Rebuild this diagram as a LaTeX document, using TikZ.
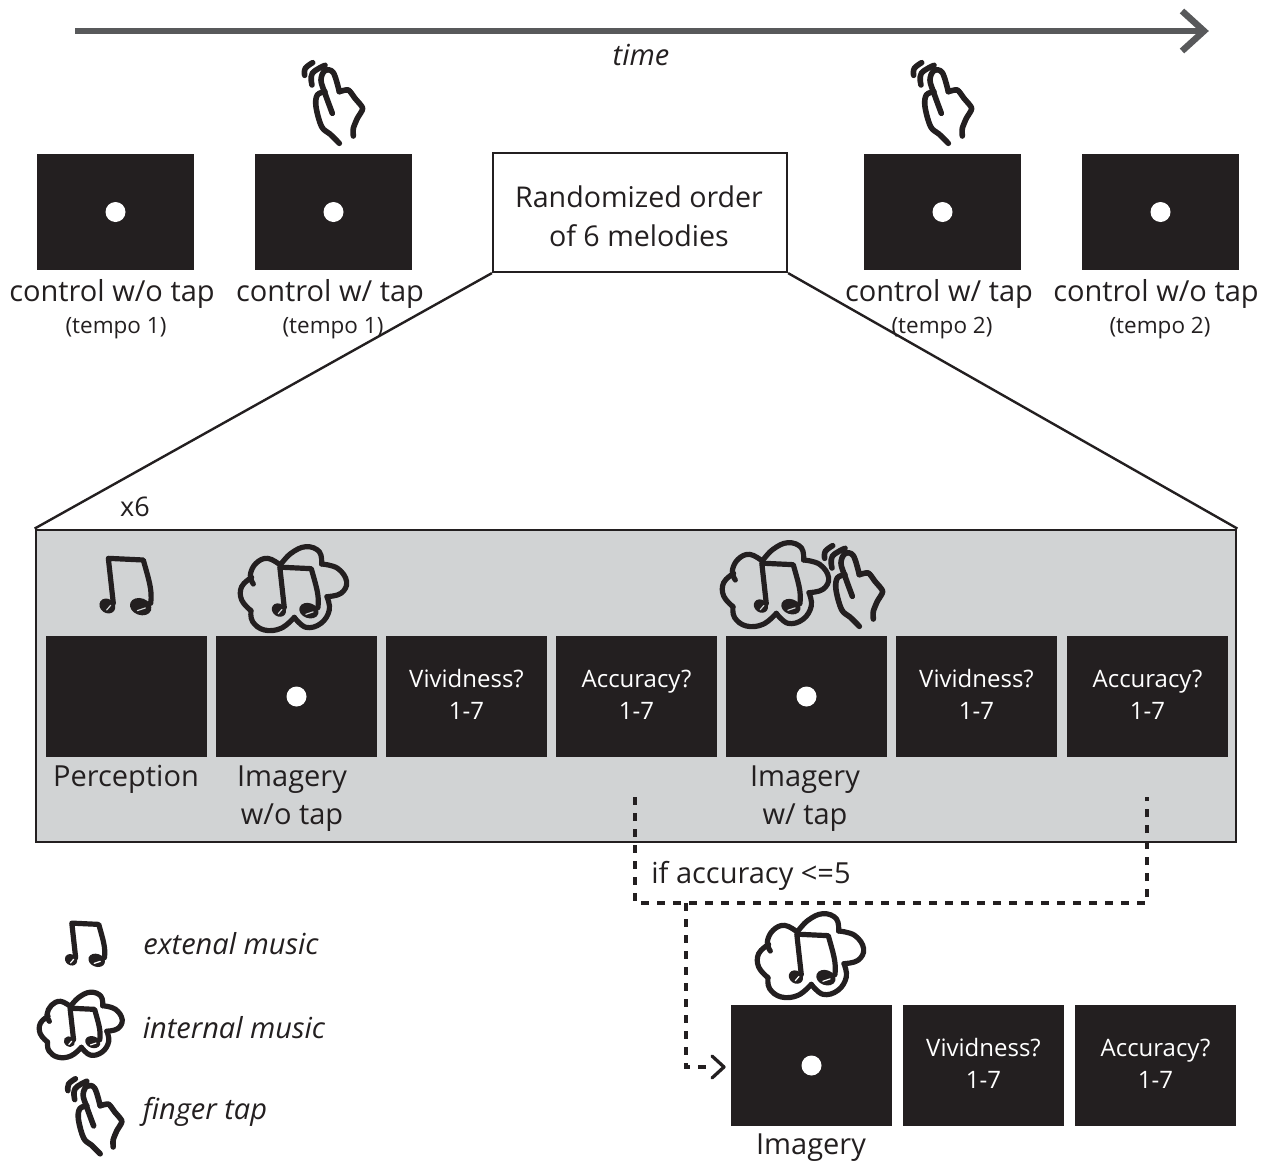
\documentclass[tikz,border=0pt]{standalone}
\usepackage{fontspec}
\setmainfont{Open Sans}
\definecolor{ink}{HTML}{231F20}
\definecolor{panelgray}{HTML}{D1D3D4}
\definecolor{arrowgray}{HTML}{58595B}
\newcommand{\qtext}[1]{#1\\1-7\rule[-4pt]{0pt}{1pt}}
\newcommand{\drawnotes}[1]{%
  \draw[icon] (100,190) -- (85,55) -- (190,60) .. controls (205,115) and (218,150) .. (212,190);
  \fill[ink,rotate around={-35:(82,198)}] (82,198) ellipse [x radius=25,y radius=21];
  \fill[ink,rotate around={-20:(182,200)}] (182,200) ellipse [x radius=33,y radius=25];
  \draw[#1,line width=1.2pt,line cap=round] (80,210) -- (92,196);
  \draw[#1,line width=1.2pt,line cap=round] (172,212) -- (196,204);
}
\tikzset{
  icon/.style={ink,line width=5.2pt,line cap=round,line join=round},
  blackbox/.style={fill=ink,draw=none,inner sep=0pt,text=white,align=center,minimum width=161pt,minimum height=121pt,font=\fontsize{24}{32}\selectfont},
  topbox/.style={blackbox,minimum width=157pt,minimum height=116pt},
  dot/.style={circle,fill=white,draw=none,inner sep=0pt,minimum size=20pt},
  lab/.style={inner sep=0pt,text=ink,font=\fontsize{29}{38}\selectfont,align=center,yshift=-3pt},
  small/.style={inner sep=0pt,text=ink,font=\fontsize{22.5}{26}\selectfont,yshift=-3pt},
  legend/.style={inner sep=0pt,text=ink,font=\itshape\fontsize{29}{32}\selectfont},
  chev/.style={line cap=round,line join=round},
  dashline/.style={ink,line width=3.3pt,dash pattern=on 8pt off 8pt},
  notes/.pic={\begin{scope}[scale=.3333]\drawnotes{#1}\end{scope}},
  cloud/.pic={\begin{scope}[scale=.3333]
    \draw[icon,smooth,tension=.7] plot coordinates {(517,132) (508,105) (525,70) (560,55) (598,75)};
    \draw[icon,smooth,tension=.7] plot coordinates {(598,75) (630,40) (675,20) (715,35) (722,72)};
    \draw[icon,smooth,tension=.7] plot coordinates {(722,72) (770,85) (797,125) (780,160) (738,170)};
    \draw[icon,smooth,tension=.7] plot coordinates {(738,170) (745,210) (720,250) (675,262) (640,232)};
    \draw[icon,smooth,tension=.7] plot coordinates {(640,232) (600,265) (550,270) (515,245) (510,212)};
    \draw[icon,smooth,tension=.7] plot coordinates {(510,212) (482,180) (482,140) (512,112)};
    \begin{scope}[shift={(520,32)},scale=.9]\drawnotes{#1}\end{scope}
  \end{scope}},
  hand/.pic={\begin{scope}[scale=.3333]
    \draw[icon,line width=5.6pt,smooth,tension=.7] plot coordinates {(74,76) (76,55) (98,38)};
    \draw[icon,line width=5.6pt,smooth,tension=.7] plot coordinates {(96,105) (97,70) (135,46)};
    \draw[icon,line width=5.6pt,smooth,tension=.6] plot coordinates {(157,190) (135,130) (123,90) (135,62) (160,68) (178,125)};
    \draw[icon,line width=5.6pt,smooth,tension=.4] plot coordinates {(178,125) (205,120) (225,145) (248,175) (232,205) (220,235) (220,258)};
    \draw[icon,line width=5.6pt,smooth,tension=.6] plot coordinates {(135,125) (112,135) (108,170) (125,230) (150,252) (178,280)};
  \end{scope}},
}
\begin{document}
\begin{tikzpicture}[x=1pt,y=-1pt]
\useasboundingbox (0,0) rectangle (1270,1162);
% time arrow
\coordinate (t0) at (75,31);
\coordinate (t1) at (1204,31);
\coordinate (t2) at (1182,11);
\coordinate (t3) at (1182,51);
\draw[arrowgray,line width=6.5pt] (t0) -- (t1);
\draw[arrowgray,line width=6.5pt,line join=miter] (t2) -- (t1) -- (t3);
\node[legend] (timelabel) at (641,55) {time};
% top row
\node[topbox] (c1) at (115.5,212) {};
\node[topbox] (c2) at (333.5,212) {};
\node[topbox] (c3) at (942.5,212) {};
\node[topbox] (c4) at (1160.5,212) {};
\node[dot] (d1) at (c1.center) {};
\node[dot] (d2) at (c2.center) {};
\node[dot] (d3) at (c3.center) {};
\node[dot] (d4) at (c4.center) {};
\pic at (280,50) {hand};
\pic at (889,50) {hand};
\node[lab] (l1) at (112,291) {control w/o tap};
\node[lab] (l2) at (330,291) {control w/ tap};
\node[lab] (l3) at (939,291) {control w/ tap};
\node[lab] (l4) at (1156,291) {control w/o tap};
\node[small] (s1) at (116,325) {(tempo 1)};
\node[small] (s2) at (333,325) {(tempo 1)};
\node[small] (s3) at (942,325) {(tempo 2)};
\node[small] (s4) at (1160,325) {(tempo 2)};
\node[draw=ink,line width=2.2pt,fill=white,inner sep=0pt,minimum width=294pt,minimum height=119pt] (rand) at (640,212.5) {};
\node[lab,font=\fontsize{28.6}{39}\selectfont] (randlabel) at (639,213) {Randomized order\\of 6 melodies};
% panel
\node[draw=ink,line width=2.8pt,fill=panelgray,inner sep=0pt,minimum width=1200pt,minimum height=312pt] (panel) at (636,686) {};
\draw[ink,line width=2.4pt] (rand.south west) -- (panel.north west);
\draw[ink,line width=2.4pt] (rand.south east) -- (panel.north east);
\node[lab,font=\fontsize{27}{30}\selectfont,yshift=3pt] (x6) at (135,507) {x6};
\node[blackbox] (b1) at (126.5,696.5) {};
\node[blackbox] (b2) at (296.5,696.5) {};
\node[blackbox] (b3) at (466.5,696.5) {\qtext{Vividness?}};
\node[blackbox] (b4) at (636.5,696.5) {\qtext{Accuracy?}};
\node[blackbox] (b5) at (806.5,696.5) {};
\node[blackbox] (b6) at (976.5,696.5) {\qtext{Vividness?}};
\node[blackbox] (b7) at (1147.5,696.5) {\qtext{Accuracy?}};
\node[dot] (d5) at (b2.center) {};
\node[dot] (d6) at (b5.center) {};
\pic at (80,540) {notes=panelgray};
\pic at (81,540) {cloud=panelgray};
\pic at (563,536) {cloud=panelgray};
\pic at (800,533) {hand};
\node[lab] (p1) at (126,776) {Perception};
\node[lab] (p2) at (292,796) {Imagery\\w/o tap};
\node[lab] (p3) at (805,796) {Imagery\\w/ tap};
% dashed
\coordinate (da) at (635,797);
\coordinate (db) at (635,903);
\coordinate (dc) at (1147,903);
\coordinate (dd) at (1147,797);
\coordinate (de) at (686,903);
\coordinate (df) at (686,1067);
\coordinate (dg) at (707,1067);
\draw[dashline] (da) -- (db) -- (dc) -- (dd);
\draw[dashline] (de) -- (df) -- (dg);
\coordinate (ch1) at (712,1056);
\coordinate (ch2) at (724,1067);
\coordinate (ch3) at (712,1078);
\draw[ink,line width=3.3pt,chev] (ch1) -- (ch2) -- (ch3);
\node[lab] (iflab) at (751,873) {if accuracy <=5};
% repeat row
\node[blackbox] (r1) at (811.5,1065.5) {};
\node[blackbox] (r2) at (983.5,1065.5) {\qtext{Vividness?}};
\node[blackbox] (r3) at (1155.5,1065.5) {\qtext{Accuracy?}};
\node[dot] (d7) at (r1.center) {};
\pic at (598,907) {cloud=white};
\node[lab] (r1l) at (811,1145) {Imagery};
% legend
\pic[scale=.77] at (50,909) {notes=white};
\pic[scale=.78] at (-85,987) {cloud=white};
\pic[scale=.93] at (45,1067) {hand};
\node[legend] (k1) at (231,944) {extenal music};
\node[legend] (k2) at (234,1028) {internal music};
\node[legend] (k3) at (205,1112) {finger tap};
\end{tikzpicture}
\end{document}
